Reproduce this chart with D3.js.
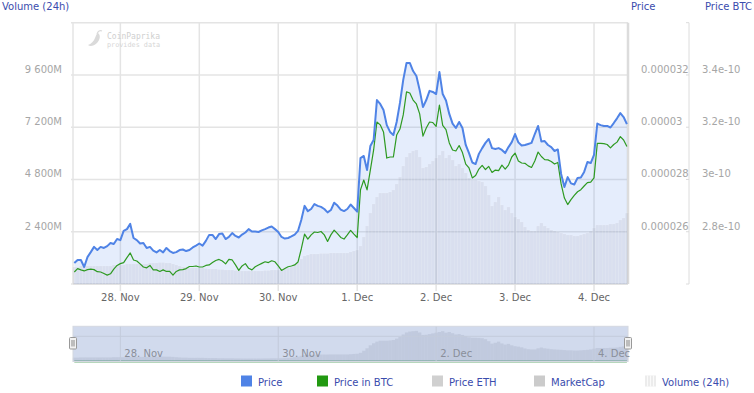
<!DOCTYPE html>
<html><head><meta charset="utf-8">
<script src="https://cdn.jsdelivr.net/npm/d3@7"></script>
<style>
html,body{margin:0;padding:0;background:#fff;}
svg{display:block;font-family:"DejaVu Sans",Verdana,sans-serif;}
</style></head><body>
<svg id="c" width="754" height="393"></svg>
<script>
// ---- data (hourly, UTC) ----
const startTime = "2019-11-27T10:00:00Z";
const price = [
0.00002480,0.00002492,0.00002492,0.00002465,0.00002503,0.00002522,0.00002542,0.00002530,0.00002542,0.00002538,
0.00002545,0.00002557,0.00002553,0.00002572,0.00002568,0.00002603,0.00002610,0.00002630,0.00002576,0.00002568,
0.00002555,0.00002557,0.00002538,0.00002542,0.00002528,0.00002521,0.00002530,0.00002521,0.00002538,0.00002526,
0.00002519,0.00002522,0.00002530,0.00002532,0.00002526,0.00002530,0.00002540,0.00002547,0.00002555,0.00002547,
0.00002565,0.00002588,0.00002588,0.00002572,0.00002591,0.00002593,0.00002572,0.00002580,0.00002595,0.00002584,
0.00002578,0.00002589,0.00002597,0.00002610,0.00002601,0.00002601,0.00002599,0.00002605,0.00002610,0.00002616,
0.00002620,0.00002610,0.00002599,0.00002580,0.00002574,0.00002576,0.00002582,0.00002589,0.00002603,0.00002645,
0.00002699,0.00002679,0.00002687,0.00002706,0.00002699,0.00002695,0.00002687,0.00002674,0.00002683,0.00002711,
0.00002700,0.00002685,0.00002679,0.00002687,0.00002704,0.00002691,0.00002677,0.00002882,0.00002890,0.00002836,
0.00002928,0.00002951,0.00003104,0.00003089,0.00003066,0.00003008,0.00002982,0.00002970,0.00003020,0.00003093,
0.00003181,0.00003246,0.00003246,0.00003215,0.00003196,0.00003142,0.00003077,0.00003104,0.00003139,0.00003135,
0.00003127,0.00003211,0.00003127,0.00003102,0.00003051,0.00003014,0.00002997,0.00003020,0.00002997,0.00002932,
0.00002901,0.00002865,0.00002859,0.00002898,0.00002920,0.00002940,0.00002955,0.00002920,0.00002917,0.00002920,
0.00002913,0.00002901,0.00002924,0.00002943,0.00002974,0.00002942,0.00002930,0.00002932,0.00002936,0.00002940,
0.00002974,0.00003005,0.00002945,0.00002947,0.00002932,0.00002924,0.00002909,0.00002915,0.00002821,0.00002771,
0.00002809,0.00002785,0.00002781,0.00002806,0.00002808,0.00002829,0.00002867,0.00002863,0.00002894,0.00003014,
0.00003008,0.00003005,0.00003005,0.00002999,0.00003016,0.00003034,0.00003054,0.00003039,0.00003012];
const priceBTC = [
2.646e-10,2.659e-10,2.654e-10,2.650e-10,2.655e-10,2.657e-10,2.655e-10,2.647e-10,2.646e-10,2.640e-10,
2.634e-10,2.639e-10,2.657e-10,2.671e-10,2.678e-10,2.682e-10,2.701e-10,2.719e-10,2.692e-10,2.688e-10,
2.677e-10,2.665e-10,2.662e-10,2.671e-10,2.654e-10,2.654e-10,2.648e-10,2.654e-10,2.648e-10,2.648e-10,
2.634e-10,2.648e-10,2.654e-10,2.655e-10,2.659e-10,2.667e-10,2.667e-10,2.669e-10,2.665e-10,2.665e-10,
2.671e-10,2.673e-10,2.682e-10,2.690e-10,2.694e-10,2.688e-10,2.677e-10,2.694e-10,2.692e-10,2.673e-10,
2.652e-10,2.669e-10,2.678e-10,2.660e-10,2.654e-10,2.666e-10,2.673e-10,2.679e-10,2.685e-10,2.682e-10,
2.689e-10,2.685e-10,2.669e-10,2.652e-10,2.659e-10,2.666e-10,2.669e-10,2.673e-10,2.684e-10,2.734e-10,
2.791e-10,2.772e-10,2.788e-10,2.799e-10,2.797e-10,2.801e-10,2.788e-10,2.763e-10,2.788e-10,2.806e-10,
2.793e-10,2.778e-10,2.772e-10,2.788e-10,2.805e-10,2.791e-10,2.778e-10,2.960e-10,2.998e-10,2.960e-10,
3.036e-10,3.113e-10,3.220e-10,3.209e-10,3.182e-10,3.082e-10,3.086e-10,3.086e-10,3.170e-10,3.193e-10,
3.247e-10,3.335e-10,3.331e-10,3.304e-10,3.289e-10,3.251e-10,3.166e-10,3.197e-10,3.220e-10,3.218e-10,
3.203e-10,3.285e-10,3.207e-10,3.191e-10,3.140e-10,3.113e-10,3.109e-10,3.130e-10,3.103e-10,3.059e-10,
3.044e-10,3.006e-10,3.015e-10,3.040e-10,3.054e-10,3.038e-10,3.050e-10,3.027e-10,3.036e-10,3.034e-10,
3.055e-10,3.040e-10,3.055e-10,3.086e-10,3.101e-10,3.071e-10,3.063e-10,3.062e-10,3.052e-10,3.046e-10,
3.071e-10,3.105e-10,3.088e-10,3.076e-10,3.075e-10,3.069e-10,3.059e-10,3.065e-10,2.983e-10,2.929e-10,
2.904e-10,2.923e-10,2.939e-10,2.953e-10,2.961e-10,2.975e-10,2.988e-10,2.990e-10,3.006e-10,3.138e-10,
3.138e-10,3.137e-10,3.134e-10,3.121e-10,3.134e-10,3.143e-10,3.164e-10,3.151e-10,3.126e-10];
const volume = [
781e6,781e6,827e6,827e6,827e6,827e6,827e6,827e6,827e6,827e6,
827e6,827e6,872e6,872e6,872e6,872e6,918e6,918e6,918e6,918e6,
918e6,918e6,918e6,964e6,964e6,964e6,987e6,987e6,964e6,964e6,
918e6,872e6,827e6,781e6,781e6,735e6,735e6,735e6,735e6,735e6,
712e6,689e6,689e6,689e6,666e6,666e6,643e6,643e6,643e6,620e6,
620e6,597e6,597e6,597e6,597e6,597e6,597e6,597e6,620e6,620e6,
643e6,643e6,643e6,666e6,689e6,735e6,781e6,872e6,964e6,1148e6,
1286e6,1332e6,1378e6,1378e6,1378e6,1401e6,1401e6,1401e6,1424e6,1424e6,
1424e6,1424e6,1424e6,1424e6,1469e6,1515e6,1561e6,1745e6,2158e6,2663e6,
3260e6,3674e6,3995e6,4179e6,4179e6,4179e6,4225e6,4316e6,4592e6,4913e6,
5419e6,5832e6,6016e6,6107e6,6153e6,5832e6,5327e6,5373e6,5510e6,5648e6,
5786e6,5924e6,6107e6,5786e6,5924e6,5694e6,5419e6,5510e6,5327e6,5097e6,
4868e6,4776e6,4776e6,4730e6,4684e6,4500e6,4087e6,3582e6,3765e6,3995e6,
3628e6,3398e6,3536e6,3260e6,3077e6,2985e6,2847e6,2617e6,2480e6,2434e6,
2434e6,2663e6,2801e6,2663e6,2572e6,2480e6,2434e6,2388e6,2342e6,2296e6,
2250e6,2250e6,2204e6,2204e6,2250e6,2296e6,2342e6,2434e6,2572e6,2709e6,
2709e6,2709e6,2709e6,2755e6,2755e6,2801e6,2939e6,3031e6,3260e6];

const viewRange = ["2019-11-27T09:36:00Z", "2019-12-04T10:20:00Z"];
const volumeTicks = [2400e6, 4800e6, 7200e6, 9600e6];
const volumeGrid = [0, 2400e6, 4800e6, 7200e6, 9600e6, 12000e6];
const priceTicks = [0.000026, 0.000028, 0.00003, 0.000032];
const priceTickLabels = ["0.000026", "0.000028", "0.00003", "0.000032"];
const btcTicks = [2.8e-10, 3e-10, 3.2e-10, 3.4e-10];
const btcTickLabels = ["2.8e-10", "3e-10", "3.2e-10", "3.4e-10"];
const dayTicks = ["2019-11-28","2019-11-29","2019-11-30","2019-12-01","2019-12-02","2019-12-03","2019-12-04"];
const dayLabels = ["28. Nov","29. Nov","30. Nov","1. Dec","2. Dec","3. Dec","4. Dec"];
const navTicks = ["2019-11-28","2019-11-30","2019-12-02","2019-12-04"];
const navLabels = ["28. Nov","30. Nov","2. Dec","4. Dec"];
const legendNames = ["Price", "Price in BTC", "Price ETH", "MarketCap", "Volume (24h)"];
const legendColors = ["#4f83e6", "#229911", "#d0d0d0", "#cbcbcb", "#ececec"];

// ---- setup ----
const t0 = Date.parse(startTime);
const times = price.map((_, i) => new Date(t0 + i * 3600e3));
const svg = d3.select("#c");
const L = 73, R = 628, T = 22.7, B = 284;
const x = d3.scaleUtc().domain(viewRange.map(d => new Date(d))).range([L, R]);
const yVol = d3.scaleLinear().domain([0, 12000e6]).range([B, T]);
const yPrice = d3.scaleLinear().domain([0.000024, 0.000034]).range([B, T]);
const yBtc = d3.scaleLinear().domain([2.6e-10, 3.6e-10]).range([B, T]);
const step = x(times[1]) - x(times[0]);
const titleColor = "#3a4cad";

// grid
const g = svg.append("g");
g.selectAll(".hg").data(volumeGrid).join("line")
  .attr("x1", L - 2).attr("x2", R).attr("y1", d => yVol(d)).attr("y2", d => yVol(d))
  .attr("stroke", "#e4e4e4").attr("stroke-width", 1.5);
g.selectAll(".vg").data(dayTicks).join("line")
  .attr("x1", d => x(new Date(d + "T00:00:00Z"))).attr("x2", d => x(new Date(d + "T00:00:00Z")))
  .attr("y1", T).attr("y2", B + 7).attr("stroke", "#e4e4e4").attr("stroke-width", 1.5);
g.append("line").attr("x1", L).attr("x2", L).attr("y1", T).attr("y2", B).attr("stroke", "#e4e4e4").attr("stroke-width", 1.5);
g.append("line").attr("x1", L).attr("x2", R).attr("y1", B).attr("y2", B).attr("stroke", "#d8d8d8").attr("stroke-width", 1);
g.append("line").attr("x1", R).attr("x2", R).attr("y1", T).attr("y2", B).attr("stroke", "#dcdcdc").attr("stroke-width", 2.5);
// BTC axis line
g.append("line").attr("x1", 689).attr("x2", 689).attr("y1", T).attr("y2", B).attr("stroke", "#dcdcdc").attr("stroke-width", 1);
g.selectAll(".bt").data(volumeGrid).join("line")
  .attr("x1", 686).attr("x2", 689).attr("y1", d => yVol(d)).attr("y2", d => yVol(d)).attr("stroke", "#dcdcdc");

// watermark
const wm = svg.append("g");
wm.append("path").attr("d", "M98,33 C101,35 100,40 97,43 C94,46 90,47 88,45 C91,44 94,41 95,38 C96,36 96,34 98,33 Z").attr("fill", "#dadada");
wm.append("path").attr("d", "M97,34 C98,31 100,30 102,31").attr("stroke", "#dadada").attr("fill", "none").attr("stroke-width", 1.2);
wm.append("text").attr("x", 107).attr("y", 39).attr("font-family", "DejaVu Sans Mono, monospace").attr("font-size", 8).attr("fill", "#cfcfcf").text("CoinPaprika");
wm.append("text").attr("x", 107).attr("y", 47).attr("font-family", "DejaVu Sans Mono, monospace").attr("font-size", 6.8).attr("fill", "#d6d6d6").text("provides data");

// price area fill
const area = d3.area().x((d, i) => x(times[i])).y0(B).y1(d => yPrice(d));
svg.append("path").datum(price).attr("d", area).attr("fill", "rgba(79,131,232,0.15)");

// volume columns
svg.append("g").selectAll("rect").data(volume).join("rect")
  .attr("x", (d, i) => x(times[i]) - step / 2).attr("width", step)
  .attr("y", d => yVol(d)).attr("height", d => B - yVol(d))
  .attr("fill", "rgba(150,150,170,0.15)").attr("stroke", "rgba(255,255,255,0.18)").attr("stroke-width", 0.6);

// lines
svg.append("path").datum(priceBTC)
  .attr("d", d3.line().x((d, i) => x(times[i])).y(d => yBtc(d)))
  .attr("fill", "none").attr("stroke", "#2e9a22").attr("stroke-width", 1.2).attr("stroke-linejoin", "round");
svg.append("path").datum(price)
  .attr("d", d3.line().x((d, i) => x(times[i])).y(d => yPrice(d)))
  .attr("fill", "none").attr("stroke", "#4f83e6").attr("stroke-width", 2).attr("stroke-linejoin", "round");

// axis labels
const lab = svg.append("g").attr("font-size", 10);
lab.selectAll(".vl").data(volumeTicks).join("text")
  .attr("x", 62).attr("y", d => yVol(d) - 2).attr("text-anchor", "end").attr("fill", "#a6a6a6")
  .text(d => d3.format(",")(d / 1e6).replace(/,/g, " ") + "M");
lab.selectAll(".pl").data(priceTicks).join("text")
  .attr("x", 641).attr("y", d => yPrice(d) - 2).attr("fill", "#a6a6a6")
  .text((d, i) => priceTickLabels[i]);
lab.selectAll(".bl").data(btcTicks).join("text")
  .attr("x", 702).attr("y", d => yBtc(d) - 2).attr("fill", "#a6a6a6")
  .text((d, i) => btcTickLabels[i]);
lab.selectAll(".xl").data(dayTicks).join("text")
  .attr("x", d => x(new Date(d + "T00:00:00Z"))).attr("y", 300.5).attr("text-anchor", "middle").attr("fill", "#666")
  .text((d, i) => dayLabels[i]);

// titles
const tt = svg.append("g").attr("font-size", 10).attr("fill", titleColor);
tt.append("text").attr("x", 2).attr("y", 9.5).text("Volume (24h)");
tt.append("text").attr("x", 631).attr("y", 9.5).text("Price");
tt.append("text").attr("x", 705).attr("y", 9.5).text("Price BTC");

// navigator
const NT = 326.3, NB = 361.5;
const yNav = d3.scaleLinear().domain([0, 7070e6]).range([NB, NT]);
const nav = svg.append("g");
nav.selectAll("rect.nv").data(volume).join("rect")
  .attr("x", (d, i) => x(times[i]) - step / 2).attr("width", step)
  .attr("y", d => yNav(d)).attr("height", d => NB - yNav(d))
  .attr("fill", "rgba(150,150,160,0.22)").attr("stroke", "rgba(255,255,255,0.15)").attr("stroke-width", 0.5);
nav.append("path").datum(priceBTC)
  .attr("d", d3.line().x((d, i) => x(times[i])).y(d => yNav(d)))
  .attr("fill", "none").attr("stroke", "#6fb07a").attr("stroke-width", 2);
nav.append("rect").attr("x", L).attr("y", NT).attr("width", R - L).attr("height", NB - NT)
  .attr("fill", "rgba(102,133,194,0.3)");
nav.append("line").attr("x1", L).attr("x2", R).attr("y1", 336.3).attr("y2", 336.3).attr("stroke", "#c3cbdb").attr("stroke-width", 1);
nav.selectAll("line.nt").data(navTicks).join("line")
  .attr("x1", d => x(new Date(d + "T00:00:00Z"))).attr("x2", d => x(new Date(d + "T00:00:00Z")))
  .attr("y1", NT).attr("y2", NB).attr("stroke", "#c3cbdb").attr("stroke-width", 1);
nav.append("rect").attr("x", L).attr("y", NT).attr("width", R - L).attr("height", NB - NT)
  .attr("fill", "none").attr("stroke", "#d4d8e0").attr("stroke-width", 1);
nav.selectAll("text").data(navTicks).join("text")
  .attr("x", d => x(new Date(d + "T00:00:00Z")) + 4).attr("y", 357).attr("font-size", 10).attr("fill", "#8a8f9a")
  .text((d, i) => navLabels[i]);
[L, R].forEach(hx => {
  nav.append("rect").attr("x", hx - 3.5).attr("y", 337.5).attr("width", 7).attr("height", 11.5).attr("rx", 1)
    .attr("fill", "#f2f2f2").attr("stroke", "#999").attr("stroke-width", 1);
  nav.append("line").attr("x1", hx - 1).attr("x2", hx - 1).attr("y1", 340).attr("y2", 346.5).attr("stroke", "#888");
  nav.append("line").attr("x1", hx + 1).attr("x2", hx + 1).attr("y1", 340).attr("y2", 346.5).attr("stroke", "#888");
});

// legend
const legendX = [241, 317, 432, 534, 645];
const lg = svg.append("g").attr("font-size", 10);
legendNames.forEach((name, i) => {
  const gx = legendX[i];
  lg.append("rect").attr("x", gx).attr("y", 375.5).attr("width", 11).attr("height", 11).attr("fill", legendColors[i]);
  if (name === "Volume (24h)") {
    [2.5, 5.5, 8.5].forEach(o => lg.append("line").attr("x1", gx + o).attr("x2", gx + o).attr("y1", 375.5).attr("y2", 386.5).attr("stroke", "#fafafa").attr("stroke-width", 1));
  }
  lg.append("text").attr("x", gx + 17).attr("y", 385.5).attr("fill", titleColor).text(name);
});
</script>
</body></html>
